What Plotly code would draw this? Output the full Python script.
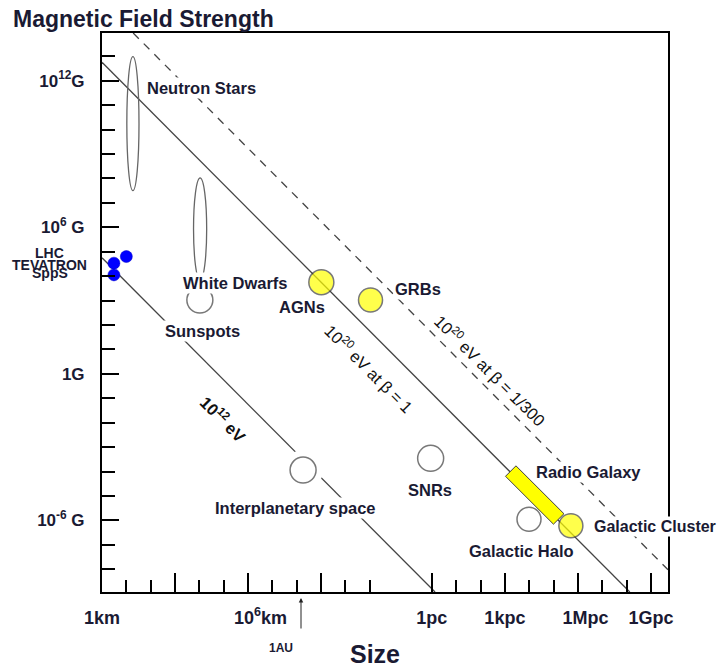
import plotly.graph_objects as go

# ---------------- data (log10 size in km, log10 field in gauss) ----------------
x_major_vals = [0, 3, 6, 9, 13.55, 16.55, 19.55, 22.55]
x_major_text = ["1km", "", "&nbsp;&nbsp;&nbsp;&nbsp;&nbsp;10<sup>6</sup>km", "", "1pc", "1kpc",
                "&nbsp;&nbsp;&nbsp;1Mpc", "1Gpc"]
x_minor_vals = [1, 2, 4, 5, 7, 8, 10, 11, 14.55, 15.55, 17.55, 18.55, 20.55, 21.55]
y_major_vals = [-6, 0, 6, 12]
y_major_text = ["10<sup>-6</sup> G", "1G", "10<sup>6</sup> G", "10<sup>12</sup>G"]
y_minor_vals = [-8, -7, -5, -4, -3, -2, -1, 1, 2, 3, 4, 5, 7, 8, 9, 10, 11, 13]

# Hillas lines: constant log10(B * R)
line_labels = ["10^12 eV", "10^20 eV, beta=1", "10^20 eV, beta=1/300"]
line_logBR = [4.75, 12.75, 15.23]

accel_names = ["LHC", "TEVATRON", "SppS"]
accel_logR = [1.00, 0.49, 0.49]
accel_logB = [4.80, 4.53, 4.05]

open_names = ["Sunspots", "Interplanetary space", "SNRs", "Galactic Halo"]
open_logR = [4.02, 8.26, 13.50, 17.54]
open_logB = [3.02, -3.94, -3.46, -5.95]

yellow_names = ["AGNs", "GRBs", "Galactic Cluster"]
yellow_logR = [9.01, 11.03, 19.26]
yellow_logB = [3.75, 3.02, -6.22]

ellipse_names = ["Neutron Stars", "White Dwarfs"]
ellipse_logR = [(1.02, 1.52), (3.76, 4.30)]
ellipse_logB = [(7.50, 12.98), (3.83, 8.02)]

radio_logR = [16.79, 18.76]
radio_logB = [-3.98, -5.94]

AU_logkm = 8.175

X_RANGE = [0, 23.25]
Y_RANGE = [-8.93, 13.95]

# ---------------- styles / layout positions ----------------
FONT = "Liberation Sans, Arial, sans-serif"
TXT = "#1a1a33"
LINEC = "#444444"
W, H = 718, 663  # page adds an 8px body margin

label_text = ["Neutron Stars", "White Dwarfs", "Sunspots", "AGNs", "GRBs",
              "Interplanetary space", "SNRs", "Radio Galaxy", "Galactic Cluster", "Galactic Halo"]
label_pos = [(4.10, 11.70), (5.48, 3.71), (4.12, 1.75), (8.22, 2.72), (12.98, 3.46),
             (7.94, -5.48), (13.46, -4.75), (19.97, -4.00), (22.72, -6.26), (17.23, -7.24)]
label_size = [16.5, 16.5, 16.5, 16.5, 16.5, 16.5, 16.5, 16.5, 16, 16.5]
accel_label_pos = [(-0.0924, 4.96), (-0.0924, 4.46), (-0.0924, 4.13)]  # x in paper units
rot_text = ["10<sup>12</sup> eV", "10<sup>20</sup> eV at β = 1", "10<sup>20</sup> eV at β = 1/300"]
rot_pos = [(4.99, -1.86), (10.96, 0.23), (15.94, 0.15)]
rot_bold = [True, False, False]

fig = go.Figure()

# Hillas lines
for i, a in enumerate(line_logBR):
    x0 = max(X_RANGE[0], a - Y_RANGE[1])
    x1 = min(X_RANGE[1], a - Y_RANGE[0])
    fig.add_trace(go.Scatter(
        x=[x0, x1], y=[a - x0, a - x1], mode="lines",
        line=dict(color=LINEC, width=1.3, dash="8px,7px" if i == 2 else "solid"),
        hoverinfo="skip", showlegend=False, name=line_labels[i]))

# white halo around interplanetary space circle
fig.add_trace(go.Scatter(x=[open_logR[1]], y=[open_logB[1]], mode="markers",
                         marker=dict(size=40, color="white", line=dict(width=0)),
                         hoverinfo="skip", showlegend=False))

# Radio galaxy bar
hw_x, hw_y = 0.215, 0.214
px = [radio_logR[0] - hw_x, radio_logR[0] + hw_x, radio_logR[1] + hw_x, radio_logR[1] - hw_x, radio_logR[0] - hw_x]
py = [radio_logB[0] - hw_y, radio_logB[0] + hw_y, radio_logB[1] + hw_y, radio_logB[1] - hw_y, radio_logB[0] - hw_y]
fig.add_trace(go.Scatter(x=px, y=py, mode="lines", fill="toself", fillcolor="#ffff00",
                         line=dict(color="#404040", width=1), hoverinfo="skip", showlegend=False))

# open circles
fig.add_trace(go.Scatter(x=open_logR, y=open_logB, mode="markers", text=open_names,
                         marker=dict(size=[26, 26, 26, 24], color="white",
                                     line=dict(color="#404040", width=1.5)),
                         showlegend=False))
# yellow circles
fig.add_trace(go.Scatter(x=yellow_logR, y=yellow_logB, mode="markers", text=yellow_names,
                         marker=dict(size=[25, 24, 24], color="#ffff00",
                                     line=dict(color="#404040", width=1.5)),
                         showlegend=False))
# accelerators
fig.add_trace(go.Scatter(x=accel_logR, y=accel_logB, mode="markers", text=accel_names,
                         marker=dict(size=12, color="#0000ff", line=dict(color="#0000cc", width=0.5)),
                         showlegend=False, cliponaxis=False))

shapes = []
for (xa, xb), (ya, yb) in zip(ellipse_logR, ellipse_logB):
    shapes.append(dict(type="circle", xref="x", yref="y", x0=xa, x1=xb, y0=ya, y1=yb,
                       line=dict(color="#666666", width=1.3)))

ann = []
for t, (x, y), s in zip(label_text, label_pos, label_size):
    ann.append(dict(x=x, y=y, xref="x", yref="y", text=t, showarrow=False,
                    font=dict(family=FONT, size=s, color=TXT, weight="bold"),
                    bgcolor="white", borderpad=1))
for t, (x, y) in zip(accel_names, accel_label_pos):
    ann.append(dict(x=x, y=y, xref="paper", yref="y", text=t, showarrow=False,
                    xanchor="center", yanchor="middle",
                    font=dict(family=FONT, size=14, color=TXT, weight="bold")))
for t, (x, y), b in zip(rot_text, rot_pos, rot_bold):
    ann.append(dict(x=x, y=y, xref="x", yref="y", text=t, showarrow=False, textangle=45,
                    font=dict(family=FONT, size=16.5, color="#111111", weight="bold" if b else "normal")))
# 1 AU arrow
ann.append(dict(x=AU_logkm, y=-6 / 559, xref="x", yref="paper", text="", showarrow=True,
                ax=0, ay=32, arrowhead=2, arrowsize=0.9, arrowwidth=1, arrowcolor="#222222"))
ann.append(dict(x=AU_logkm, y=-56 / 559, xref="x", yref="paper", xshift=-20, text="1AU",
                xanchor="center", yanchor="middle",
                showarrow=False, font=dict(family=FONT, size=12, color=TXT, weight="bold")))
# x axis title
ann.append(dict(x=(375 - 102) / 566, y=-62 / 559, xref="paper", yref="paper", text="Size",
                xanchor="center", yanchor="middle",
                showarrow=False, font=dict(family=FONT, size=25, color=TXT, weight="bold")))

fig.update_layout(
    width=W, height=H,
    margin=dict(l=94, r=58, t=25, b=79),
    paper_bgcolor="white", plot_bgcolor="white",
    title=dict(text="Magnetic Field Strength", x=5 / W, xref="container", xanchor="left",
               y=1 - 11 / H, yref="container", yanchor="middle",
               font=dict(family=FONT, size=23, color=TXT, weight="bold")),
    shapes=shapes, annotations=ann, showlegend=False,
    xaxis=dict(range=X_RANGE, showgrid=False, zeroline=False, showline=True, linecolor="black",
               linewidth=2, mirror=True, ticks="inside", ticklen=19, tickwidth=2, tickcolor="black",
               tickmode="array", tickvals=x_major_vals, ticktext=x_major_text,
               tickfont=dict(family=FONT, size=18, color=TXT, weight="bold"), ticklabelstandoff=8,
               minor=dict(tickmode="array", tickvals=x_minor_vals, ticks="inside", ticklen=12,
                          tickwidth=2, tickcolor="black", showgrid=False)),
    yaxis=dict(range=Y_RANGE, showgrid=False, zeroline=False, showline=True, linecolor="black",
               linewidth=2, mirror=True, ticks="inside", ticklen=17, tickwidth=2, tickcolor="black",
               tickmode="array", tickvals=y_major_vals, ticktext=y_major_text,
               tickfont=dict(family=FONT, size=17, color=TXT, weight="bold"), ticklabelstandoff=12,
               minor=dict(tickmode="array", tickvals=y_minor_vals, ticks="inside", ticklen=13,
                          tickwidth=2, tickcolor="black", showgrid=False)),
)

fig.write_html("out.html")
